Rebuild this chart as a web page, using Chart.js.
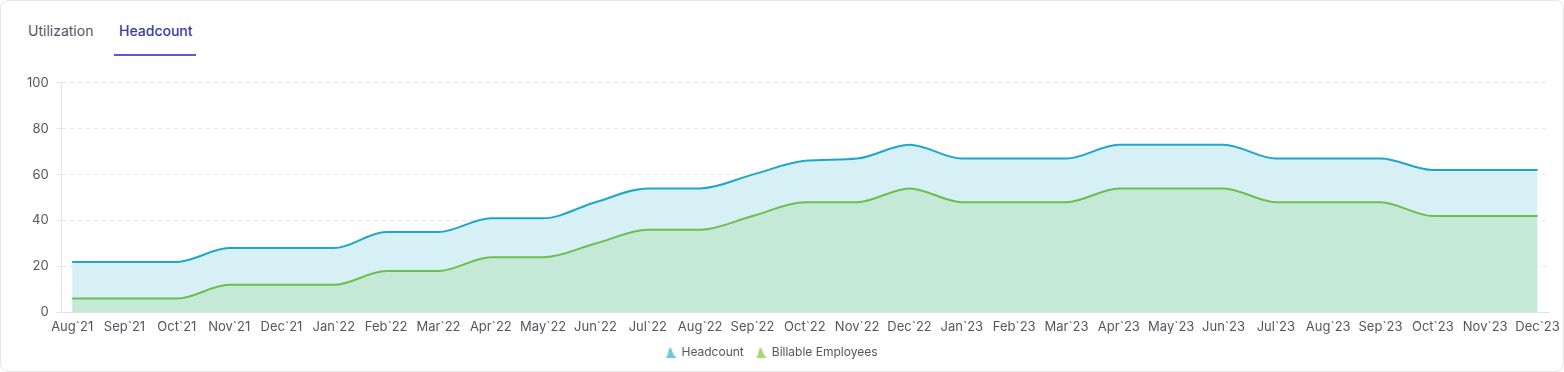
<!DOCTYPE html>
<html>
<head>
<meta charset="utf-8">
<script src="https://cdn.jsdelivr.net/npm/chart.js@4.4.1/dist/chart.umd.min.js"></script>
<style>
  body { margin: 0; background: #fff; font-family: Inter, "Noto Sans", sans-serif; }
  .card { position: absolute; left: 0; top: 0; width: 1562px; height: 370px; border: 1px solid #e6e6e6; border-radius: 8px; overflow: hidden; }
  .tabs { position: absolute; left: 0; top: 0; height: 56px; }
  .tab { position: absolute; top: 21px; font-size: 14px; color: #55555f; white-space: nowrap; }
  .tab.active { color: #3a3aa3; font-weight: 500; }
  .underline { position: absolute; left: 113px; top: 53px; width: 82px; height: 2px; background: #5a5ad2; }
  .chart-box { position: absolute; left: 0; top: 66px; width: 1562px; height: 311px; }
</style>
</head>
<body>
<div class="card">
  <div class="tabs">
    <div class="tab" style="left:27px">Utilization</div>
    <div class="tab active" style="left:118px">Headcount</div>
    <div class="underline"></div>
  </div>
  <div class="chart-box"><canvas id="myChart"></canvas></div>
</div>
<script>
// labels + values
var months = ['Aug`21', 'Sep`21', 'Oct`21', 'Nov`21', 'Dec`21', 'Jan`22', 'Feb`22', 'Mar`22',
  'Apr`22', 'May`22', 'Jun`22', 'Jul`22', 'Aug`22', 'Sep`22', 'Oct`22', 'Nov`22', 'Dec`22',
  'Jan`23', 'Feb`23', 'Mar`23', 'Apr`23', 'May`23', 'Jun`23', 'Jul`23', 'Aug`23', 'Sep`23',
  'Oct`23', 'Nov`23', 'Dec`23'];
var headcount = [22, 22, 22, 28, 28, 28, 35, 35, 41, 41, 48, 54, 54, 60, 66, 67, 73,
  67, 67, 67, 73, 73, 73, 67, 67, 67, 62, 62, 62];
var billable = [6, 6, 6, 12, 12, 12, 18, 18, 24, 24, 30, 36, 36, 42, 48, 48, 54,
  48, 48, 48, 54, 54, 54, 48, 48, 48, 42, 42, 42];
var yTicks = [0, 20, 40, 60, 80, 100];

// little area-shaped legend icon
function areaIcon(color) {
  var c = document.createElement('canvas');
  c.width = 11; c.height = 11;
  var g = c.getContext('2d');
  g.fillStyle = color;
  g.beginPath();
  g.moveTo(0, 11);
  g.bezierCurveTo(2, 10, 2.5, 1, 4.2, 1);
  g.bezierCurveTo(6, 1, 6.5, 10, 11, 11);
  g.closePath();
  g.fill();
  return c;
}

function toPoints(arr) {
  return arr.map(function (v, i) { return { x: i, y: v }; });
}

// legend in the original sits a bit left of centre and close under the axis
var legendShift = {
  id: 'legendShift',
  afterLayout: function (chart) {
    chart.legend.left -= 11;
    chart.legend.right -= 11;
    chart.legend.top -= 10;
    chart.legend.bottom -= 10;
  }
};

var ctx = document.getElementById('myChart').getContext('2d');
var myChart = new Chart(ctx, {
  type: 'line',
  data: {
    datasets: [
      {
        label: 'Headcount',
        data: toPoints(headcount),
        borderColor: '#1fa7c6',
        backgroundColor: '#d7f0f6',
        borderWidth: 2,
        pointRadius: 0,
        pointStyle: areaIcon('#6fc6dd'),
        cubicInterpolationMode: 'monotone',
        fill: '+1'
      },
      {
        label: 'Billable Employees',
        data: toPoints(billable),
        borderColor: '#6cbf4f',
        backgroundColor: '#c4e9d6',
        borderWidth: 2,
        pointRadius: 0,
        pointStyle: areaIcon('#a3d873'),
        cubicInterpolationMode: 'monotone',
        fill: 'origin'
      }
    ]
  },
  plugins: [legendShift],
  options: {
    responsive: true,
    maintainAspectRatio: false,
    animation: false,
    layout: { padding: { left: 18, right: 15, top: 1, bottom: 0 } },
    plugins: {
      filler: { drawTime: 'beforeDatasetsDraw' },
      legend: {
        position: 'bottom',
        labels: {
          usePointStyle: true,
          boxWidth: 8,
          boxHeight: 11,
          padding: 14,
          color: '#55555f',
          font: { family: 'Inter', size: 12 }
        }
      },
      tooltip: { enabled: false }
    },
    scales: {
      x: {
        type: 'linear',
        min: -0.2,
        max: months.length - 1 + 0.2,
        afterBuildTicks: function (axis) {
          axis.ticks = months.map(function (m, i) { return { value: i }; });
        },
        afterFit: function (axis) {
          axis.paddingRight = 0;
        },
        grid: { display: false, drawTicks: false },
        border: { display: true, color: '#e2e2e2' },
        ticks: {
          autoSkip: false,
          maxRotation: 0,
          padding: 7,
          color: '#55555f',
          font: { family: 'Inter', size: 13 },
          callback: function (v) { return months[v]; }
        }
      },
      y: {
        min: 0,
        max: 100,
        afterBuildTicks: function (axis) {
          axis.ticks = yTicks.map(function (v) { return { value: v }; });
        },
        grid: { color: '#e6e6e6', tickColor: '#e2e2e2', tickLength: 5 },
        border: { display: true, color: '#e2e2e2', dash: [4, 4] },
        ticks: {
          padding: 8,
          color: '#55555f',
          font: { family: 'Inter', size: 13 }
        }
      }
    }
  }
});
</script>
</body>
</html>
